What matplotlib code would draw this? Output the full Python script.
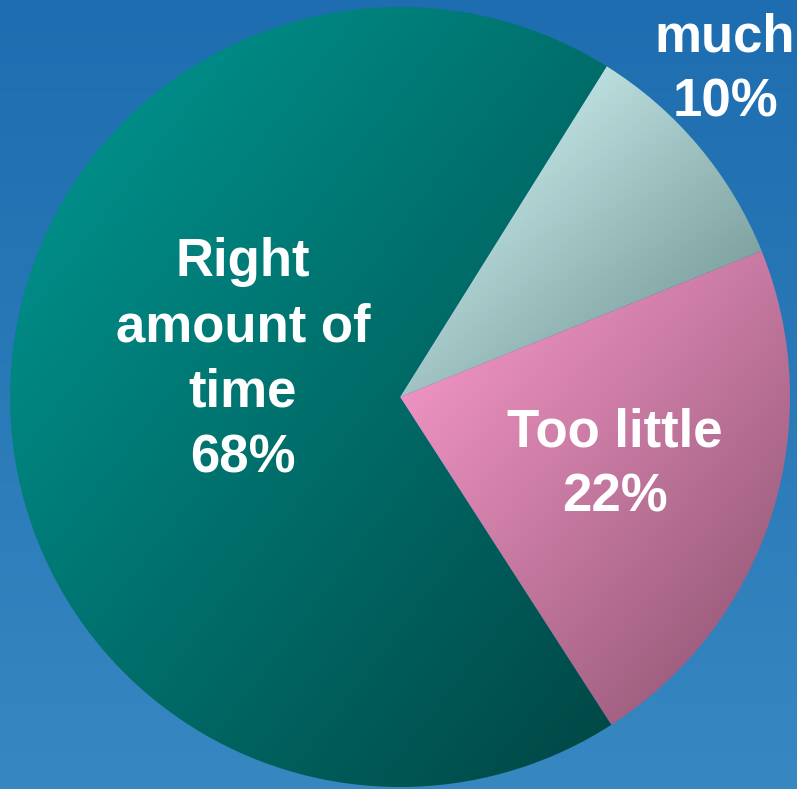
import numpy as np
import matplotlib.pyplot as plt
from matplotlib.colors import LinearSegmentedColormap

# slices, clockwise from the top
labels = ["Too\nmuch", "Too little", "Right\namount of\ntime"]
values = [10, 22, 68]

# gradient end colours per slice (top-left light -> bottom-right dark)
light = ["#dcffff", "#ff9ed0", "#009a95"]
dark = ["#668a88", "#88506c", "#004644"]

fig = plt.figure(figsize=(7.97, 7.89), dpi=100)
ax = fig.add_axes([0, 0, 1, 1])

# blue background gradient
bg = np.linspace(0, 1, 256).reshape(-1, 1)
bg_cmap = LinearSegmentedColormap.from_list("bg", ["#1d6db0", "#3787c1"])
ax.imshow(bg, cmap=bg_cmap, extent=[0, 797, 0, 789], origin="upper", aspect="auto", zorder=0)

wedges, _ = ax.pie(values, startangle=58, counterclock=False,
                   center=(400, 392), radius=390)

# fill every wedge with a diagonal gradient clipped to its shape
for w, c1, c2 in zip(wedges, light, dark):
    w.set_facecolor("none")
    w.set_edgecolor("none")
    verts = w.get_path().vertices
    x0, y0 = verts.min(axis=0)
    x1, y1 = verts.max(axis=0)
    u = np.linspace(0, 1, 200)
    grad = (u[None, :] + u[:, None]) / 2
    cmap = LinearSegmentedColormap.from_list("g", [c1, c2])
    im = ax.imshow(grad, cmap=cmap, extent=[x0, x1, y0, y1], origin="upper",
                   aspect="auto", zorder=1)
    im.set_clip_path(w)

# labels
label_pos = [(725, 752), (615, 324), (243, 429)]
for lab, v, (x, y) in zip(labels, values, label_pos):
    ax.text(x, y, f"{lab}\n{v}%", ha="center", va="center", color="white",
            fontsize=38, fontweight="bold", family="Liberation Sans",
            linespacing=1.4, zorder=3)

ax.set_xlim(0, 797)
ax.set_ylim(0, 789)
ax.set_aspect("auto")
ax.axis("off")

fig.savefig("out.png", dpi=100)
